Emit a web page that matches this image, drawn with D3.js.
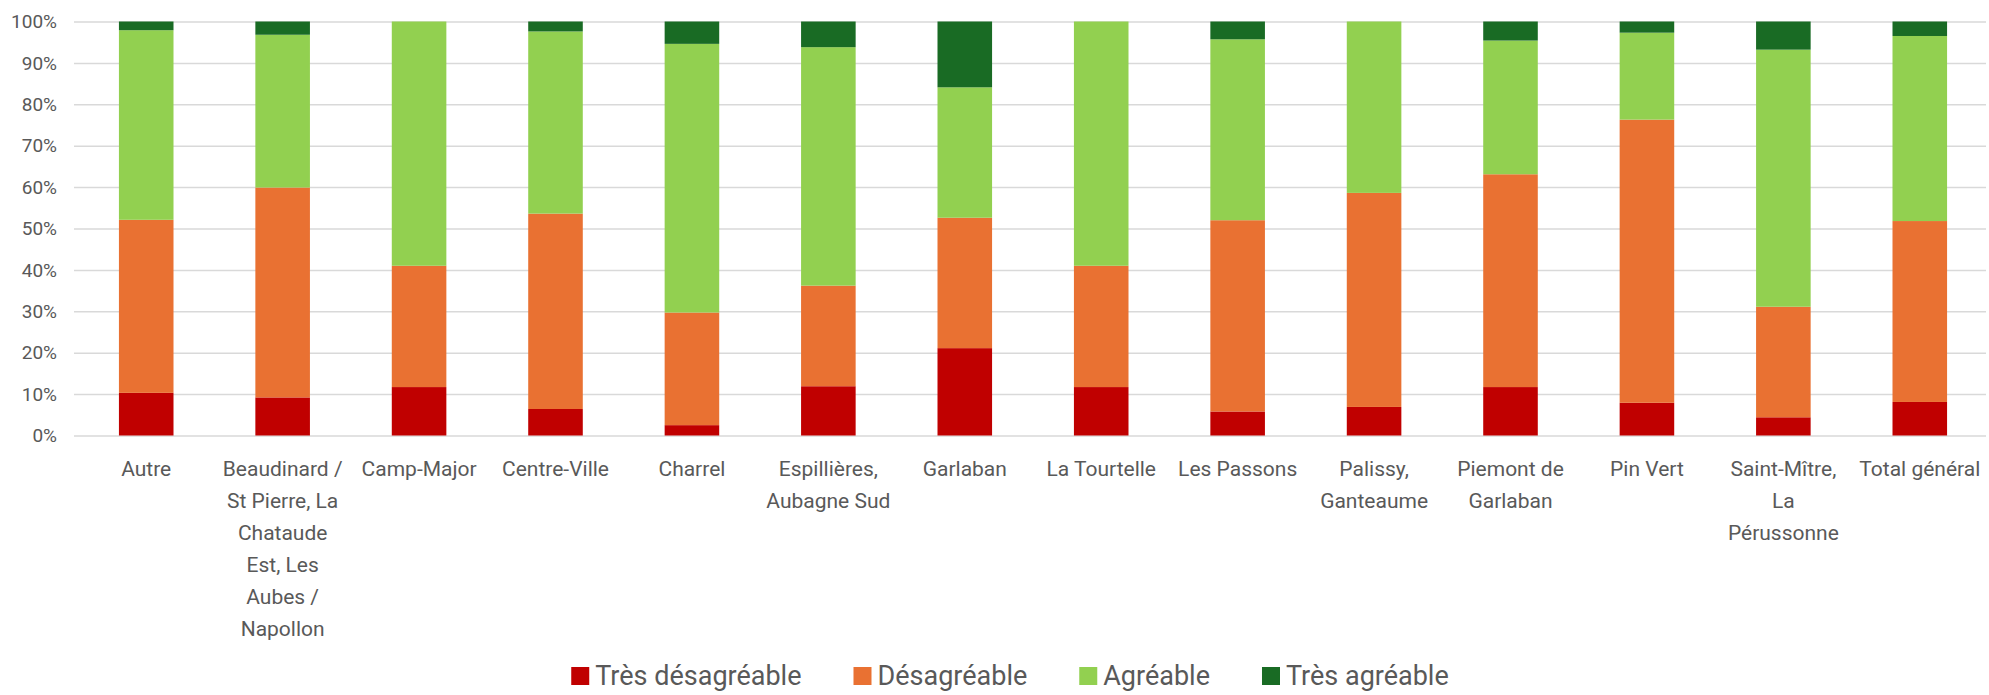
<!DOCTYPE html>
<html lang="fr">
<head>
  <meta charset="UTF-8">
  <title>Ressenti par quartier</title>
  <style>
    body{ margin:0; background:#fff; }
    svg text{ font-family: Roboto, "Noto Sans", sans-serif; fill:#595959; }
    .grid line{ stroke:#d9d9d9; stroke-width:1.5px; }
    .grid path{ display:none; }
  </style>
</head>
<body>
<svg id="chart" width="1989" height="695"></svg>

<script src="https://cdn.jsdelivr.net/npm/d3@7"></script>
<script>
  "use strict";

  // quartiers (retours a la ligne comme dans Excel)
  var categories = [
    "Autre",
    "Beaudinard /\nSt Pierre, La\nChataude\nEst, Les\nAubes /\nNapollon",
    "Camp-Major",
    "Centre-Ville",
    "Charrel",
    "Espillières,\nAubagne Sud",
    "Garlaban",
    "La Tourtelle",
    "Les Passons",
    "Palissy,\nGanteaume",
    "Piemont de\nGarlaban",
    "Pin Vert",
    "Saint-Mître,\nLa\nPérussonne",
    "Total général"
  ];

  var seriesNames = ["Très désagréable", "Désagréable", "Agréable", "Très agréable"];

  // parts en %
  var tresDesagreable = [10.3,  9.2, 11.7,  6.4,  2.5, 11.9, 21.1, 11.7,  5.8,  6.9, 11.7,  7.9,  4.4,  8.1];
  var desagreable     = [41.8, 50.7, 29.3, 47.2, 27.2, 24.3, 31.5, 29.3, 46.2, 51.7, 51.4, 68.4, 26.7, 43.7];
  var agreable        = [45.8, 36.9, 59.0, 44.0, 64.9, 57.6, 31.5, 59.0, 43.7, 41.4, 32.3, 21.0, 62.1, 44.7];
  var tresAgreable    = [ 2.1,  3.2,  0.0,  2.4,  5.4,  6.2, 15.9,  0.0,  4.3,  0.0,  4.6,  2.7,  6.8,  3.5];

  var yTicks = [0, 10, 20, 30, 40, 50, 60, 70, 80, 90, 100];

  var colors = ["#c00000", "#e97132", "#92d050", "#196b24"];

  var rows = categories.map(function(c, i){
    var r = { cat: c };
    r[seriesNames[0]] = tresDesagreable[i];
    r[seriesNames[1]] = desagreable[i];
    r[seriesNames[2]] = agreable[i];
    r[seriesNames[3]] = tresAgreable[i];
    return r;
  });

  var svg = d3.select("#chart");
  var mLeft = 78, mRight = 1988, mTop = 21.5, mBottom = 435.5;

  var x = d3.scaleBand()
    .domain(categories)
    .range([mLeft, mRight])
    .paddingInner(0.6)
    .paddingOuter(0.3);

  var y = d3.scaleLinear().domain([0, 100]).range([mBottom, mTop]);

  var color = d3.scaleOrdinal().domain(seriesNames).range(colors);

  // grille
  svg.append("g")
    .attr("class", "grid")
    .attr("transform", "translate(" + (mLeft - 4) + ",0)")
    .call(d3.axisLeft(y).tickValues(yTicks).tickSize(-(mRight - mLeft + 2)).tickFormat(""));

  // libelles axe Y
  svg.append("g")
    .selectAll("text")
    .data(yTicks)
    .enter()
    .append("text")
    .attr("x", 57)
    .attr("y", function(d){ return y(d); })
    .attr("dy", "0.35em")
    .attr("text-anchor", "end")
    .style("font-size", "19px")
    .text(function(d){ return d + "%"; });

  // barres empilees
  var stacked = d3.stack().keys(seriesNames)(rows);

  svg.append("g")
    .selectAll("g")
    .data(stacked)
    .enter()
    .append("g")
    .attr("fill", function(d){ return color(d.key); })
    .selectAll("rect")
    .data(function(d){ return d; })
    .enter()
    .append("rect")
    .attr("x", function(d){ return x(d.data.cat); })
    .attr("y", function(d){ return y(d[1]); })
    .attr("width", x.bandwidth())
    .attr("height", function(d){ return y(d[0]) - y(d[1]); });

  // libelles des quartiers
  var labels = svg.append("g")
    .selectAll("text")
    .data(categories)
    .enter()
    .append("text")
    .attr("text-anchor", "middle")
    .style("font-size", "21px")
    .attr("transform", function(d){
      return "translate(" + (x(d) + x.bandwidth() / 2) + ",469)";
    });

  labels.selectAll("tspan")
    .data(function(d){ return d.split("\n"); })
    .enter()
    .append("tspan")
    .attr("x", 0)
    .attr("y", function(d, i){ return i * 32; })
    .attr("dy", "0.35em")
    .text(function(d){ return d; });

  // legende
  var legend = svg.append("g");
  var lx = 0;
  seriesNames.forEach(function(name, i){
    var item = legend.append("g").attr("transform", "translate(" + lx + ",0)");
    item.append("rect")
      .attr("x", 0).attr("y", -9)
      .attr("width", 18).attr("height", 18)
      .attr("fill", colors[i]);
    var t = item.append("text")
      .attr("x", 24)
      .attr("y", 0)
      .attr("dy", "0.35em")
      .style("font-size", "27px")
      .text(name);
    lx += 24 + t.node().getComputedTextLength() + 52;
  });
  var lw = lx - 52;
  legend.attr("transform", "translate(" + (1010 - lw / 2) + ",676)");
</script>
</body>
</html>
